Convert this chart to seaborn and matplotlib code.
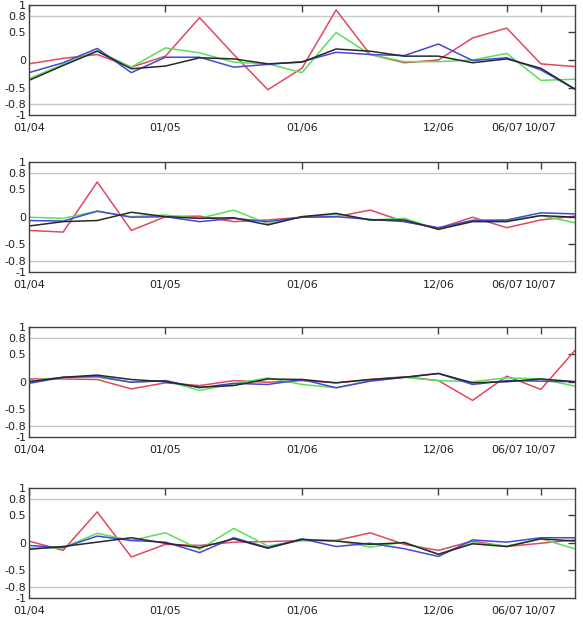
import pandas as pd
import matplotlib
matplotlib.use("Agg")
import matplotlib.pyplot as plt
import seaborn as sns

idx = list(range(17))
tick_pos = [0, 4, 8, 12, 14, 15]
tick_labels = ['01/04', '01/05', '01/06', '12/06', '06/07', '10/07']
ytick_pos = [0.5, 0, -0.5]
ytick_labels = ['0.5', '0', '-0.5']
ygrid_pos = [1, 0.8, -0.8, -1]
ygrid_labels = ['1', '0.8', '-0.8', '-1']

# panel 1
p1_red = [-0.07, 0.03, 0.1, -0.13, 0.07, 0.77, 0.1, -0.54, -0.15, 0.91, 0.1, -0.05, 0.0, 0.4, 0.58, -0.07, -0.12]
p1_green = [-0.34, -0.08, 0.17, -0.13, 0.22, 0.13, -0.04, -0.07, -0.23, 0.5, 0.1, -0.03, -0.03, 0.0, 0.12, -0.37, -0.35]
p1_blue = [-0.23, -0.05, 0.21, -0.23, 0.05, 0.05, -0.13, -0.08, -0.03, 0.14, 0.1, 0.08, 0.29, -0.01, 0.04, -0.18, -0.53]
p1_black = [-0.37, -0.1, 0.16, -0.16, -0.11, 0.04, 0.02, -0.07, -0.04, 0.2, 0.16, 0.07, 0.07, -0.05, 0.02, -0.15, -0.53]
# panel 2
p2_red = [-0.25, -0.28, 0.63, -0.25, 0.0, 0.01, -0.09, -0.06, -0.01, 0.0, 0.12, -0.09, -0.21, -0.01, -0.2, -0.06, 0.01]
p2_green = [-0.01, -0.03, 0.1, 0.0, 0.03, -0.03, 0.12, -0.13, 0.0, 0.04, -0.06, -0.03, -0.23, -0.06, -0.07, 0.02, -0.11]
p2_blue = [-0.07, -0.08, 0.1, -0.01, 0.0, -0.09, -0.03, -0.09, -0.01, 0.0, -0.05, -0.09, -0.2, -0.07, -0.06, 0.07, 0.05]
p2_black = [-0.17, -0.09, -0.07, 0.08, 0.0, -0.03, -0.02, -0.15, 0.0, 0.06, -0.06, -0.06, -0.23, -0.09, -0.09, 0.02, -0.01]
# panel 3
p3_red = [0.05, 0.05, 0.04, -0.13, -0.02, -0.07, 0.02, -0.01, 0.02, -0.02, 0.04, 0.09, 0.02, -0.34, 0.1, -0.14, 0.57]
p3_green = [0.02, 0.08, 0.08, -0.01, 0.02, -0.16, -0.04, 0.07, -0.05, -0.11, 0.02, 0.08, 0.02, 0.0, 0.07, 0.05, -0.08]
p3_blue = [-0.03, 0.08, 0.1, -0.01, 0.02, -0.11, -0.03, -0.05, 0.04, -0.11, 0.01, 0.08, 0.15, -0.05, 0.02, 0.01, 0.0]
p3_black = [0.0, 0.08, 0.12, 0.04, 0.0, -0.1, -0.07, 0.05, 0.04, -0.02, 0.04, 0.08, 0.15, -0.02, 0.0, 0.05, 0.0]
# panel 4
p4_red = [0.03, -0.14, 0.56, -0.26, -0.03, -0.05, 0.01, 0.02, 0.04, 0.04, 0.18, -0.03, -0.14, 0.03, -0.07, -0.01, 0.05]
p4_green = [-0.1, -0.09, 0.17, 0.04, 0.18, -0.12, 0.26, -0.06, 0.04, 0.04, -0.08, 0.01, -0.21, 0.0, -0.06, 0.07, -0.11]
p4_blue = [-0.05, -0.09, 0.12, 0.04, 0.01, -0.18, 0.09, -0.09, 0.07, -0.07, -0.01, -0.11, -0.25, 0.05, 0.01, 0.09, 0.09]
p4_black = [-0.12, -0.07, 0.01, 0.09, -0.01, -0.09, 0.07, -0.1, 0.06, 0.03, -0.03, 0.0, -0.21, -0.02, -0.07, 0.07, 0.03]

panels = [
    (p1_red, p1_green, p1_blue, p1_black),
    (p2_red, p2_green, p2_blue, p2_black),
    (p3_red, p3_green, p3_blue, p3_black),
    (p4_red, p4_green, p4_blue, p4_black),
]
palette = {'red': '#e04860', 'green': '#58e058', 'blue': '#4646dc', 'black': '#282828'}

sns.set_style("white")
plt.rcParams['font.family'] = ['DejaVu Sans']

fig = plt.figure(figsize=(5.83, 6.23), dpi=100)
bottoms = [0.8154, 0.5639, 0.299, 0.0406]

for (red, green, blue, black), b in zip(panels, bottoms):
    ax = fig.add_axes([0.0497, b, 0.9365, 0.1766])
    df = pd.DataFrame({
        'x': idx * 4,
        'y': red + green + blue + black,
        's': ['red'] * 17 + ['green'] * 17 + ['blue'] * 17 + ['black'] * 17,
    })
    sns.lineplot(data=df, x='x', y='y', hue='s', palette=palette,
                 linewidth=1.1, legend=False, ax=ax)
    for g in (0.8, -0.8):
        ax.axhline(g, color='#c8c8c8', linewidth=1.0, zorder=0)
    ax.set_xlim(0, 16)
    ax.set_ylim(-1, 1)
    ax.set_xticks(tick_pos)
    ax.set_xticklabels(tick_labels)
    ax.set_yticks(ytick_pos)
    ax.set_yticklabels(ytick_labels)
    # labels for the border / grid levels, without tick marks
    ax.set_yticks(ygrid_pos, minor=True)
    ax.set_yticklabels(ygrid_labels, minor=True)
    ax.set_xlabel('')
    ax.set_ylabel('')
    ax.tick_params(axis='both', which='major', direction='in', length=5, width=1,
                   color='#404040', labelsize=8, labelcolor='#222222',
                   top=True, right=True)
    ax.tick_params(axis='y', which='minor', length=0, labelsize=8,
                   labelcolor='#222222', pad=2)
    ax.tick_params(axis='x', pad=6)
    ax.tick_params(axis='y', which='major', pad=2)
    for sp in ax.spines.values():
        sp.set_color('#404040')
        sp.set_linewidth(1.0)

fig.savefig('out.png', dpi=100)
